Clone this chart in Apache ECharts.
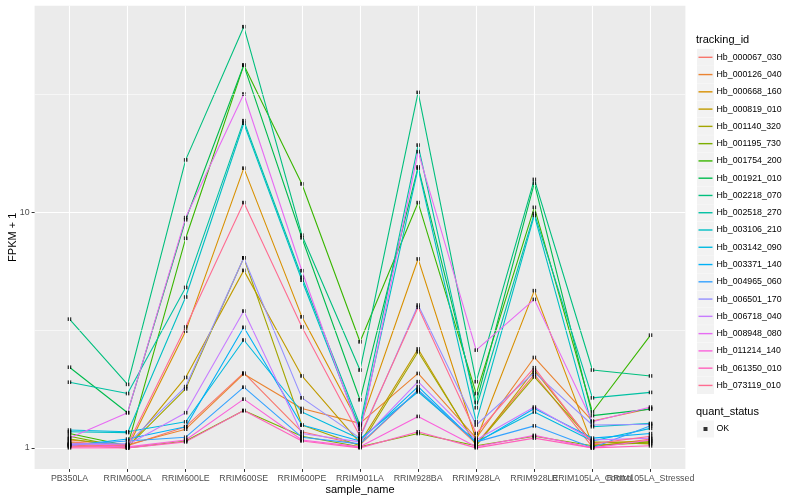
<!DOCTYPE html>
<html><head><meta charset="utf-8">
<script src="https://cdn.jsdelivr.net/npm/echarts@6/dist/echarts.min.js"></script>
<style>html,body{margin:0;padding:0;background:#fff}#c{width:800px;height:500px}</style>
</head><body><div id="c"></div>
<script>
// x categories
const categories = ['PB350LA','RRIM600LA','RRIM600LE','RRIM600SE','RRIM600PE','RRIM901LA','RRIM928BA','RRIM928LA','RRIM928LE','RRIM105LA_Control','RRIM105LA_Stressed'];
const yTickValues = [1, 10];
const yTickLabels = ['1', '10'];
const yMinorValues = [3.1623, 31.623];

// FPKM + 1 per tracking_id (order follows categories)
const Hb_000067_030 = [1.06, 1.02, 1.23, 2.08, 1.17, 1.03, 1.76, 1.04, 2.05, 1.01, 1.09];
const Hb_000126_040 = [1.08, 1.03, 1.20, 2.06, 1.47, 1.27, 2.07, 1.10, 2.42, 1.30, 1.47];
const Hb_000668_160 = [1.03, 1.00, 3.13, 15.4, 3.60, 1.24, 6.34, 1.08, 4.65, 1.03, 1.05];
const Hb_000819_010 = [1.05, 1.00, 1.99, 5.67, 2.02, 1.05, 2.63, 1.02, 2.14, 1.05, 1.07];
const Hb_001140_320 = [1.09, 1.01, 1.78, 6.41, 1.25, 1.02, 2.56, 1.03, 2.00, 1.06, 1.04];
const Hb_001195_730 = [1.12, 1.00, 1.07, 1.44, 1.12, 1.01, 1.15, 1.02, 1.12, 1.02, 1.06];
const Hb_001754_200 = [1.15, 1.02, 7.76, 42.2, 13.2, 2.82, 11.0, 1.70, 10.5, 1.42, 3.01];
const Hb_001921_010 = [2.20, 1.41, 9.30, 42.2, 7.80, 1.60, 15.6, 1.56, 13.3, 1.37, 1.46];
const Hb_002218_070 = [3.52, 1.86, 16.7, 61.4, 8.00, 2.14, 32.3, 1.91, 13.8, 2.14, 2.02];
const Hb_002518_270 = [1.90, 1.70, 4.80, 24.5, 5.30, 1.25, 19.3, 1.48, 9.90, 1.63, 1.72];
const Hb_003106_210 = [1.17, 1.16, 4.37, 23.9, 5.15, 1.20, 15.4, 1.29, 9.70, 1.23, 1.27];
const Hb_003142_090 = [1.19, 1.17, 1.29, 2.87, 1.42, 1.09, 1.73, 1.06, 1.42, 1.07, 1.21];
const Hb_003371_140 = [1.02, 1.09, 1.23, 3.25, 1.25, 1.07, 1.82, 1.05, 1.47, 1.10, 1.15];
const Hb_004965_060 = [1.03, 1.07, 1.11, 1.81, 1.11, 1.04, 1.76, 1.06, 1.24, 1.00, 1.24];
const Hb_006501_170 = [1.04, 1.04, 1.82, 6.41, 1.63, 1.10, 4.04, 1.25, 2.09, 1.25, 1.26];
const Hb_006718_040 = [1.04, 1.03, 1.41, 3.81, 1.15, 1.06, 1.91, 1.08, 1.49, 1.08, 1.10];
const Hb_008948_080 = [1.10, 1.41, 9.50, 31.8, 5.65, 1.15, 18.1, 2.60, 4.27, 1.29, 1.49];
const Hb_011214_140 = [1.02, 1.01, 1.08, 1.61, 1.08, 1.01, 1.36, 1.01, 1.13, 1.00, 1.08];
const Hb_061350_010 = [1.00, 1.00, 1.06, 1.44, 1.07, 1.00, 1.17, 1.00, 1.10, 1.00, 1.02];
const Hb_073119_010 = [1.01, 1.03, 3.26, 11.0, 3.26, 1.12, 3.95, 1.15, 2.19, 1.04, 1.12];

const trackingIds = ['Hb_000067_030','Hb_000126_040','Hb_000668_160','Hb_000819_010','Hb_001140_320','Hb_001195_730','Hb_001754_200','Hb_001921_010','Hb_002218_070','Hb_002518_270','Hb_003106_210','Hb_003142_090','Hb_003371_140','Hb_004965_060','Hb_006501_170','Hb_006718_040','Hb_008948_080','Hb_011214_140','Hb_061350_010','Hb_073119_010'];
const seriesValues = [Hb_000067_030,Hb_000126_040,Hb_000668_160,Hb_000819_010,Hb_001140_320,Hb_001195_730,Hb_001754_200,Hb_001921_010,Hb_002218_070,Hb_002518_270,Hb_003106_210,Hb_003142_090,Hb_003371_140,Hb_004965_060,Hb_006501_170,Hb_006718_040,Hb_008948_080,Hb_011214_140,Hb_061350_010,Hb_073119_010];
const hueColors = ['#F8766D','#EA8331','#D89000','#C09B00','#A3A500','#7CAE00','#39B600','#00BB4E','#00BF7D','#00C1A3','#00BFC4','#00BAE0','#00B0F6','#35A2FF','#9590FF','#C77CFF','#E76BF3','#FA62DB','#FF62BC','#FF6C91'];

const FONT = 'Liberation Sans, Arial, sans-serif';
const chart = echarts.init(document.getElementById('c'), null, {renderer: 'canvas'});

const lineSeries = trackingIds.map((id, k) => ({
  name: id, type: 'line', z: 2, xAxisIndex: 0,
  data: seriesValues[k].map((v, i) => [i, v]),
  showSymbol: false, symbol: 'none',
  itemStyle: {color: hueColors[k]},
  lineStyle: {color: hueColors[k], width: 1.1},
  emphasis: {disabled: true}, silent: true
}));

const pointData = [];
seriesValues.forEach(arr => arr.forEach((v, i) => pointData.push([i, v])));

const gridSeries = {
  name: '_grid', type: 'line', z: 1, data: [], silent: true, xAxisIndex: 0,
  markLine: {
    silent: true, symbol: 'none', animation: false, label: {show: false},
    data: categories.map((c, i) => ({xAxis: i, lineStyle: {color: '#ffffff', width: 1.1, type: 'solid'}}))
      .concat(yMinorValues.map(v => ({yAxis: v, lineStyle: {color: '#ffffff', width: 0.55, type: 'solid'}})))
  }
};

const allIdx = categories.map((c, i) => i);
const isInt = v => Math.abs(v - Math.round(v)) < 1e-6;
const tickStyle = {show: true, length: 3, lineStyle: {color: '#333333', width: 1}};
const hiddenLine = {show: true, onZero: false, lineStyle: {color: 'rgba(0,0,0,0)', width: 0}};
const makeXLabel = parity => ({show: true, margin: 5, fontSize: 8.8, color: '#4D4D4D', fontFamily: FONT,
  hideOverlap: false, showMinLabel: true, showMaxLabel: true,
  customValues: allIdx.filter(i => i % 2 === parity),
  formatter: v => (isInt(v) && Math.round(v) % 2 === parity) ? (categories[Math.round(v)] || '') : ''});

const option = {
  animation: false,
  backgroundColor: '#ffffff',
  textStyle: {fontFamily: FONT},
  title: [
    {text: 'tracking_id', left: 696, top: 34, padding: 0, textStyle: {fontFamily: FONT, fontSize: 11, fontWeight: 'normal', color: '#000'}},
    {text: 'quant_status', left: 696, top: 406, padding: 0, textStyle: {fontFamily: FONT, fontSize: 11, fontWeight: 'normal', color: '#000'}}
  ],
  grid: {left: 34.6, right: 114.6, top: 5.7, bottom: 31.1, show: true, backgroundColor: '#EBEBEB', borderWidth: 0, containLabel: false, outerBoundsMode: 'none'},
  xAxis: [{
    type: 'value', min: -0.6, max: 10.6, position: 'bottom',
    name: 'sample_name', nameLocation: 'middle', nameGap: 16, nameMoveOverlap: false,
    nameTextStyle: {fontFamily: FONT, fontSize: 11, color: '#000'},
    axisLine: hiddenLine,
    axisTick: Object.assign({customValues: allIdx}, tickStyle),
    axisLabel: makeXLabel(0),
    splitLine: {show: false}
  }, {
    type: 'value', min: -0.6, max: 10.6, position: 'bottom', offset: 0,
    axisLine: hiddenLine,
    axisTick: {show: false},
    axisLabel: makeXLabel(1),
    splitLine: {show: false}
  }],
  yAxis: {
    type: 'log', logBase: 10, min: 0.814, max: 75.4,
    name: 'FPKM + 1', nameLocation: 'middle', nameGap: 16, nameRotate: 90, nameMoveOverlap: false,
    nameTextStyle: {fontFamily: FONT, fontSize: 11, color: '#000'},
    axisLine: hiddenLine,
    axisTick: Object.assign({customValues: yTickValues}, tickStyle),
    axisLabel: {show: true, margin: 5, fontSize: 8.8, color: '#4D4D4D', fontFamily: FONT,
      customValues: yTickValues,
      formatter: v => { const j = yTickValues.findIndex(t => Math.abs(t - v) < 1e-6); return j >= 0 ? yTickLabels[j] : ''; }},
    splitLine: {show: true, lineStyle: {color: '#ffffff', width: 1.1}},
    minorSplitLine: {show: false}
  },
  legend: [
    {data: trackingIds, orient: 'vertical', left: 697, top: 48.8, itemWidth: 17, itemHeight: 17, itemGap: 0.27,
     icon: 'rect', itemStyle: {color: '#F2F2F2', borderWidth: 0}, formatter: () => '', selectedMode: false,
     textStyle: {fontSize: 1}, padding: 0},
    {data: trackingIds, orient: 'vertical', left: 698.5, top: 48.8, itemWidth: 14, itemHeight: 1.4, itemGap: 0.27,
     icon: 'rect', selectedMode: false, padding: 0,
     itemStyle: {borderWidth: 0},
     textStyle: {fontFamily: FONT, fontSize: 8.8, color: '#000', lineHeight: 17, padding: [0, 0, 0, -1]}},
    {data: ['OK'], orient: 'vertical', left: 697, top: 420.5, itemWidth: 17, itemHeight: 17, padding: 0,
     icon: 'rect', itemStyle: {color: '#F2F2F2', borderWidth: 0}, formatter: () => '', selectedMode: false, textStyle: {fontSize: 1}},
    {data: ['OK'], orient: 'vertical', left: 703.5, top: 420.5, itemWidth: 4, itemHeight: 4, padding: 0,
     icon: 'rect', selectedMode: false, itemStyle: {color: '#000', borderWidth: 0},
     textStyle: {fontFamily: FONT, fontSize: 8.8, color: '#000', lineHeight: 17, padding: [0, 0, 0, 4]}}
  ],
  series: [gridSeries].concat(lineSeries).concat([{
    name: 'OK', type: 'scatter', z: 3, xAxisIndex: 0, data: pointData, symbol: 'rect', symbolSize: 3.6,
    itemStyle: {color: '#000000'}, silent: true, emphasis: {disabled: true}
  }])
};
chart.setOption(option);
</script>
</body></html>
